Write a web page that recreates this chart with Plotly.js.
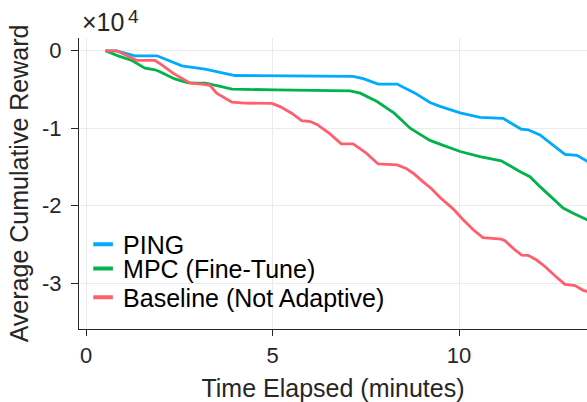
<!DOCTYPE html>
<html><head><meta charset="utf-8">
<script src="https://cdn.plot.ly/plotly-3.0.1.min.js"></script>
<style>html,body{margin:0;padding:0;background:#fff;}#chart{width:587px;height:402px;}</style>
</head><body><div id="chart"></div>
<script>
const seriesNames = ['PING', 'MPC (Fine-Tune)', 'Baseline (Not Adaptive)'];
const seriesColors = ['#00AAFF', '#00B34A', '#FF5F6A'];

const pingX = [0.52,0.82,1.31,1.90,2.57,3.19,3.99,5.07,6.27,7.16,7.43,7.83,8.34,8.82,9.22,9.49,10.03,10.56,11.18,11.66,11.85,12.17,12.57,12.84,13.16,13.45];
const pingY = [0,0,-650,-650,-1940,-2360,-3190,-3230,-3260,-3300,-3600,-4300,-4300,-5470,-6680,-7170,-8000,-8600,-8720,-10100,-10200,-10850,-12360,-13370,-13500,-14300];

const mpcX = [0.52,0.86,1.23,1.58,1.85,1.98,2.36,2.71,2.92,3.19,3.54,3.91,5.07,6.19,7.08,7.35,7.80,8.26,8.69,8.90,9.22,9.54,10.03,10.56,11.13,11.64,11.90,12.17,12.52,12.79,13.06,13.45];
const mpcY = [0,-650,-1250,-2240,-2450,-2700,-3600,-4100,-4170,-4170,-4520,-4950,-5040,-5060,-5170,-5470,-6550,-8050,-9990,-10630,-11560,-12140,-13000,-13660,-14200,-15600,-16240,-17530,-19030,-20300,-20970,-21850];

const baseX = [0.52,0.82,1.23,1.36,1.85,2.03,2.33,2.57,2.79,3.10,3.32,3.50,3.73,3.91,4.26,4.98,5.20,5.51,5.78,6.01,6.19,6.54,6.84,7.16,7.39,7.52,7.83,8.34,8.58,8.77,9.03,9.27,9.49,9.84,10.11,10.38,10.64,11.13,11.23,11.50,11.68,11.85,12.08,12.31,12.60,12.84,13.11,13.32,13.45];
const baseY = [0,0,-940,-1250,-1250,-1810,-2880,-3530,-4170,-4300,-4460,-5470,-6110,-6630,-6760,-6780,-7200,-8050,-9000,-9130,-9500,-10720,-12000,-12000,-12790,-13240,-14600,-14730,-15180,-15800,-16890,-17830,-18930,-20400,-21800,-23100,-24100,-24300,-24500,-25700,-26360,-26400,-27000,-27870,-29160,-30140,-30300,-30880,-31100];

const xTickVals = [0, 5, 10];
const yTickVals = [0, -10000, -20000, -30000];
const yTickText = ['0', '-1', '-2', '-3'];
const expBase = '×10';
const expPower = '4';

const xs = [pingX, mpcX, baseX];
const ys = [pingY, mpcY, baseY];
const legendIds = ['legend', 'legend2', 'legend3'];

const traces = [];
for (let i = 0; i < 3; i++) {
  traces.push({x: xs[i], y: ys[i], type: 'scatter', mode: 'lines', name: seriesNames[i],
    line: {color: seriesColors[i], width: 2.8}, showlegend: false, hoverinfo: 'skip'});
}
for (let i = 0; i < 3; i++) {
  traces.push({x: [null], y: [null], type: 'scatter', mode: 'markers', name: seriesNames[i],
    legend: legendIds[i], showlegend: true,
    marker: {symbol: 'line-ew', size: 14, color: seriesColors[i], line: {width: 4, color: seriesColors[i]}}});
}

const FONT = '"Liberation Sans", Arial, Helvetica, sans-serif';
const legBase = {xanchor: 'left', yanchor: 'middle', bgcolor: 'rgba(0,0,0,0)', borderwidth: 0,
  font: {family: FONT, size: 25, color: '#000'}, itemwidth: 30};

const layout = {
  width: 587, height: 402,
  margin: {l: 79, r: 0, t: 38, b: 73, pad: 0},
  paper_bgcolor: '#ffffff', plot_bgcolor: '#ffffff',
  font: {family: FONT, color: '#262626', size: 22},
  xaxis: {range: [-0.19, 13.43], tickvals: xTickVals, showgrid: true, gridcolor: '#ebebeb', gridwidth: 1,
    zeroline: false, showline: true, linecolor: '#262626', linewidth: 1, mirror: false,
    ticks: 'outside', ticklen: 6, tickwidth: 1, tickcolor: '#262626', tickfont: {size: 22, color: '#262626'},
    ticklabelstandoff: 1,
    title: {text: 'Time Elapsed (minutes)', font: {size: 25, color: '#262626'}, standoff: 12}, automargin: false},
  yaxis: {range: [-35900, 1650], tickvals: yTickVals, ticktext: yTickText, showgrid: true, gridcolor: '#ebebeb', gridwidth: 1,
    zeroline: false, showline: true, linecolor: '#262626', linewidth: 1,
    ticks: 'outside', ticklen: 7, tickwidth: 1, tickcolor: '#262626', tickfont: {size: 22, color: '#262626'},
    ticklabelstandoff: 5,
    title: {text: 'Average Cumulative Reward', font: {size: 25, color: '#262626'}, standoff: 6}, automargin: false},
  legend: Object.assign({}, legBase, {x: 0.008, y: 0.29}),
  legend2: Object.assign({}, legBase, {x: 0.008, y: 0.207}),
  legend3: Object.assign({}, legBase, {x: 0.008, y: 0.108}),
  annotations: [
    {xref: 'paper', yref: 'paper', x: 0, y: 1, xanchor: 'left', yanchor: 'bottom',
      text: expBase, showarrow: false, font: {size: 25, color: '#262626'}, xshift: 1, yshift: 0},
    {xref: 'paper', yref: 'paper', x: 0, y: 1, xanchor: 'left', yanchor: 'bottom',
      text: expPower, showarrow: false, font: {size: 19, color: '#262626'}, xshift: 47, yshift: 9}
  ],
  showlegend: true
};

Plotly.newPlot('chart', traces, layout, {staticPlot: true, displayModeBar: false});
</script>
</body></html>
